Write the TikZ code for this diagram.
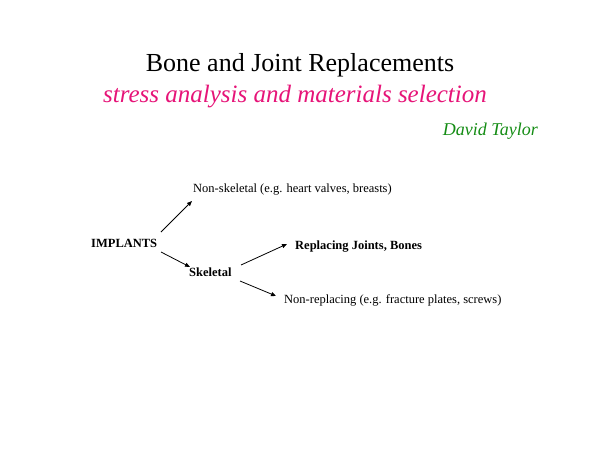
\documentclass[tikz,border=0pt]{standalone}
\usepackage{fontspec}
\setmainfont{Liberation Serif}
\usetikzlibrary{arrows.meta}
\begin{document}
\begin{tikzpicture}[x=1pt,y=-1pt,
  lbl/.style={inner sep=0pt,anchor=west,font=\fontsize{12.5}{14}\selectfont},
  arr/.style={-{Triangle[length=5pt,width=4pt]},line width=0.8pt}]
\useasboundingbox (0,0) rectangle (600,450);
\node[inner sep=0pt,font=\fontsize{26}{30}\selectfont] (t) at (300,65) {Bone and Joint Replacements};
\node[inner sep=0pt,font=\fontsize{25}{30}\selectfont\itshape,text={rgb,255:red,230;green,20;blue,120}] (s) at (295,97) {stress analysis and materials selection};
\node[inner sep=0pt,anchor=east,font=\fontsize{18}{22}\selectfont\itshape,text={rgb,255:red,20;green,140;blue,20}] (a) at (538,131) {David Taylor};
\node[lbl] (ns) at (193,190) {Non-skeletal (e.g. heart valves, breasts)};
\node[lbl,font=\fontsize{12.5}{14}\selectfont\bfseries] (im) at (91,243) {IMPLANTS};
\node[lbl,font=\fontsize{12.5}{14}\selectfont\bfseries] (sk) at (189,272) {Skeletal};
\node[lbl,font=\fontsize{12.5}{14}\selectfont\bfseries] (rj) at (295,247) {Replacing Joints, Bones};
\node[lbl] (nr) at (284,300) {Non-replacing (e.g. fracture plates, screws)};
\coordinate (a1) at (161,232); \coordinate (b1) at (192,201);
\coordinate (a2) at (161,252); \coordinate (b2) at (190,267);
\coordinate (a3) at (241,265); \coordinate (b3) at (287,244);
\coordinate (a4) at (240,281); \coordinate (b4) at (276,296);
\draw[arr] (a1) -- (b1);
\draw[arr] (a2) -- (b2);
\draw[arr] (a3) -- (b3);
\draw[arr] (a4) -- (b4);
\end{tikzpicture}
\end{document}
